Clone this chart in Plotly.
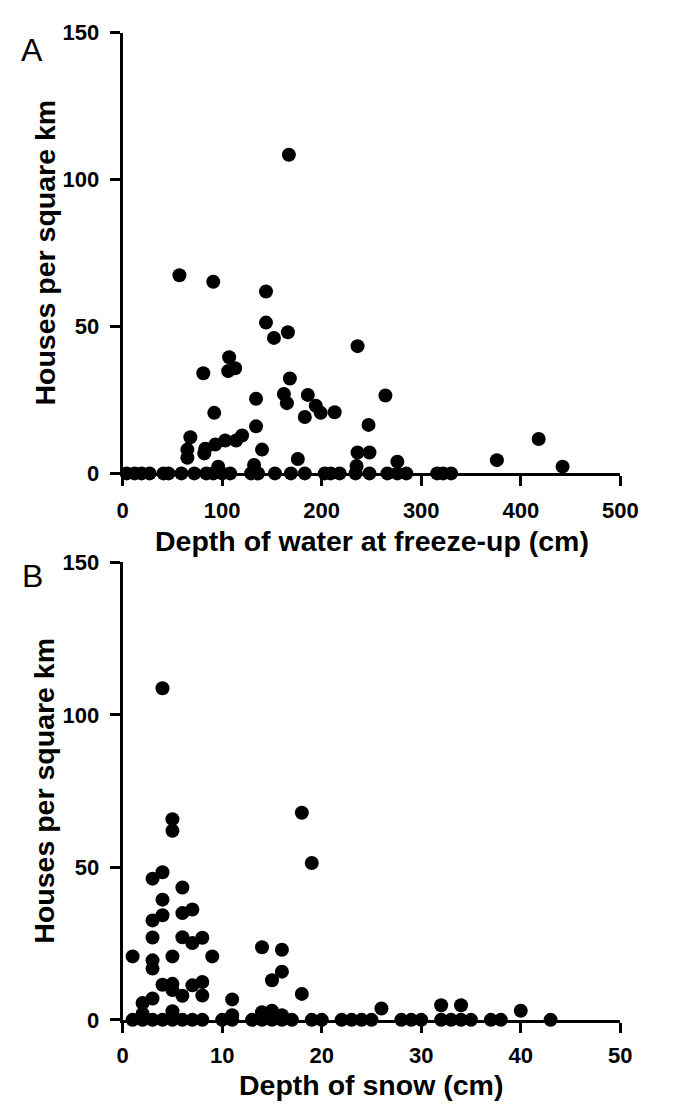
import plotly.graph_objects as go

# Panel A: depth of water at freeze-up (cm) vs houses per square km
water_depth = [57, 91, 144, 144, 152, 166, 167, 107, 106, 113, 81, 168, 162, 165, 134, 92,
               134, 140, 68, 65, 65, 83, 82, 93, 103, 114, 120, 176, 236, 186, 194, 199,
               213, 183, 264, 247, 236, 248, 418, 376, 442, 276, 96, 132, 235,
               4, 12, 19, 27, 41, 46, 59, 72, 84, 91, 100, 108, 129, 136, 153, 169, 183,
               203, 209, 218, 234, 248, 266, 276, 285, 316, 322, 330]
water_houses = [67.4, 65.2, 61.9, 51.3, 46.1, 48.0, 108.4, 39.5, 34.8, 35.8, 34.1, 32.3, 27.0, 23.9,
                25.4, 20.6, 16.0, 8.1, 12.3, 8.1, 5.3, 8.4, 6.8, 9.8, 11.2, 11.2, 12.9, 4.9, 43.3,
                26.7, 23.0, 20.6, 20.8, 19.2, 26.5, 16.5, 7.1, 7.1, 11.7, 4.5, 2.3, 4.0, 2.3, 2.9, 2.5,
                0, 0, 0, 0, 0, 0, 0, 0, 0, 0, 0, 0, 0, 0, 0, 0, 0,
                0, 0, 0, 0, 0, 0, 0, 0, 0, 0, 0]

# Panel B: depth of snow (cm) vs houses per square km
snow_depth = [1, 2, 2, 3, 3, 3, 3, 3, 3, 4, 4, 4, 4, 4, 5, 5, 5, 5, 5, 5, 6, 6, 6, 6,
              7, 7, 7, 8, 8, 8, 9, 11, 11, 14, 14, 15, 15, 16, 16, 16, 18, 18, 19, 26, 32, 34, 40,
              1, 2, 3, 4, 5, 6, 7, 8, 10, 11, 13, 14, 15, 16, 17, 19, 20, 22, 23, 24, 25,
              28, 29, 30, 32, 33, 34, 35, 37, 38, 43]
snow_houses = [20.8, 5.5, 2.0, 46.3, 32.6, 27.0, 19.5, 16.8, 7.0, 108.7, 48.4, 39.4, 34.3, 11.5,
               65.8, 62.0, 20.8, 11.8, 9.8, 2.8, 43.4, 35.0, 27.1, 7.9, 36.2, 25.2, 11.3, 26.9, 12.4,
               8.0, 20.8, 6.7, 1.5, 23.8, 2.5, 13.0, 3.0, 23.0, 15.8, 1.5, 67.9, 8.5, 51.4, 3.7, 4.8,
               4.8, 3.0,
               0, 0, 0, 0, 0, 0, 0, 0, 0, 0, 0, 0, 0, 0, 0, 0, 0, 0, 0, 0, 0,
               0, 0, 0, 0, 0, 0, 0, 0, 0, 0]

x_ticks_a = [0, 100, 200, 300, 400, 500]
x_ticks_b = [0, 10, 20, 30, 40, 50]
y_ticks = [0, 50, 100, 150]

W, H = 673, 1113
x0, x1 = 121, 637
a_top, a_bot = 21, 472
b_top, b_bot = 563, 1031

def px(v):
    return v / W

def py(v):
    return 1 - v / H

FONT = "Liberation Sans, Arial, sans-serif"

fig = go.Figure()
marker = dict(color="black", size=14, line=dict(width=0))
fig.add_trace(go.Scatter(x=water_depth, y=water_houses, mode="markers", marker=marker,
                         xaxis="x", yaxis="y", cliponaxis=False, showlegend=False))
fig.add_trace(go.Scatter(x=snow_depth, y=snow_houses, mode="markers", marker=marker,
                         xaxis="x2", yaxis="y2", cliponaxis=False, showlegend=False))

axis_common = dict(showline=True, linecolor="black", linewidth=3, ticks="outside",
                   ticklen=10, tickwidth=3, tickcolor="black", showgrid=False, zeroline=False,
                   tickfont=dict(family=FONT, size=22, color="black", weight="bold"),
                   fixedrange=True)

fig.update_layout(
    width=W, height=H, margin=dict(l=0, r=0, t=0, b=0),
    paper_bgcolor="white", plot_bgcolor="white",
    xaxis=dict(domain=[px(x0), px(x1)], range=[0, 500], tickvals=x_ticks_a, anchor="y",
               ticklabelstandoff=5, **axis_common),
    yaxis=dict(domain=[py(a_bot), py(a_top)], range=[0, 150], tickvals=y_ticks, anchor="x",
               ticklabelstandoff=6, **axis_common),
    xaxis2=dict(domain=[px(x0), px(x1)], range=[0, 50], tickvals=x_ticks_b, anchor="y2",
                ticklabelstandoff=4, **axis_common),
    yaxis2=dict(domain=[py(b_bot), py(b_top)], range=[0, 150], tickvals=y_ticks, anchor="x2",
                ticklabelstandoff=6, **axis_common),
)

title_font = dict(family=FONT, size=28.5, color="black", weight="bold")
annos = [
    dict(text="A", x=px(26.5), y=py(38.5), font=dict(family=FONT, size=32, color="black")),
    dict(text="B", x=px(27), y=py(576.5), font=dict(family=FONT, size=32, color="black")),
    dict(text="Houses per square km", x=px(40), y=py((a_top + a_bot) / 2), textangle=-90, font=title_font),
    dict(text="Houses per square km", x=px(40), y=py((b_top + b_bot) / 2), textangle=-90, font=title_font),
    dict(text="Depth of water at freeze-up (cm)", x=px(380), y=py(541.5), font=title_font),
    dict(text="Depth of snow (cm)", x=px(379), y=py(1097.5), font=title_font),
]
for a in annos:
    fig.add_annotation(xref="paper", yref="paper", showarrow=False, xanchor="center",
                       yanchor="middle", borderpad=0, **a)

fig.write_html("out.html", config={"displayModeBar": False},
               post_script="document.body.style.margin='0';document.body.style.overflow='hidden';")
